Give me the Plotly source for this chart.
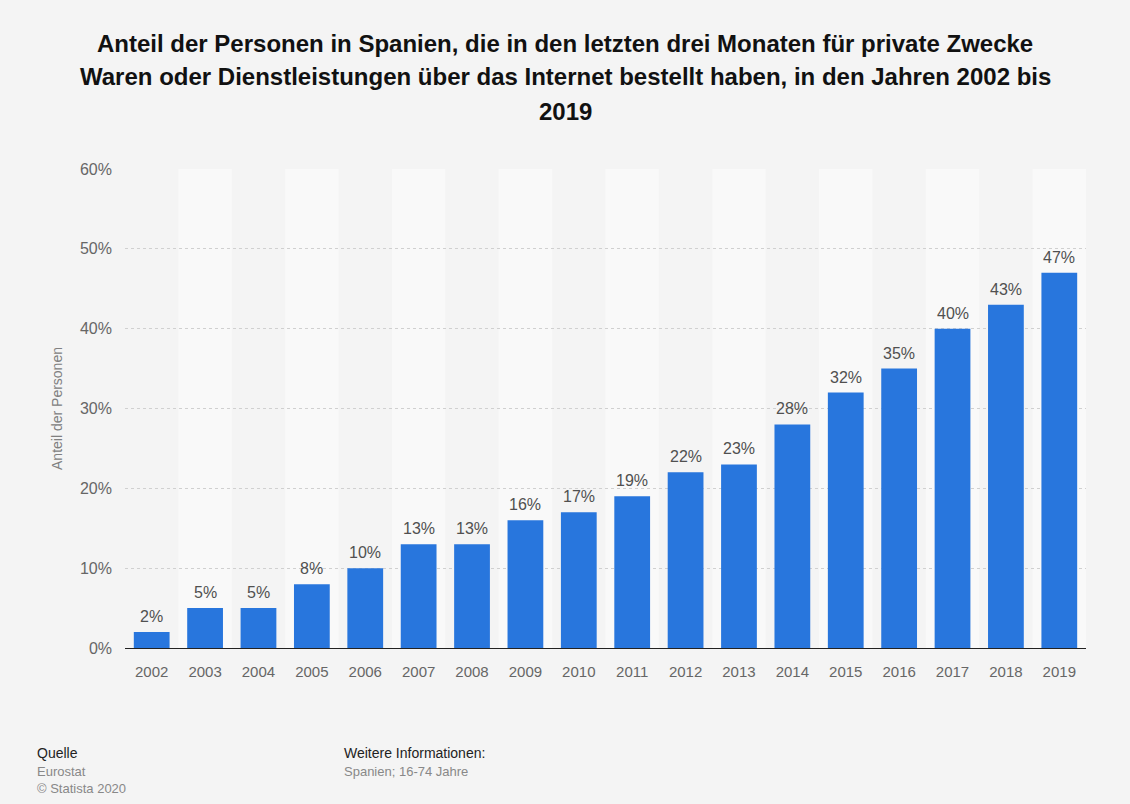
import plotly.graph_objects as go

# Werte
jahre = [str(j) for j in range(2002, 2020)]
anteil = [2, 5, 5, 8, 10, 13, 13, 16, 17, 19, 22, 23, 28, 32, 35, 40, 43, 47]
y_ticks = [0, 10, 20, 30, 40, 50, 60]
y_labels = ['0%', '10%', '20%', '30%', '40%', '50%', '60%']

title_lines = [
    'Anteil der Personen in Spanien, die in den letzten drei Monaten für private Zwecke',
    'Waren oder Dienstleistungen über das Internet bestellt haben, in den Jahren 2002 bis',
    '2019',
]

footer = [
    ('Quelle', 35, 753, '#222222', 14),
    ('Eurostat', 35, 771, '#888888', 13),
    ('© Statista 2020', 35, 788, '#888888', 13),
    ('Weitere Informationen:', 342, 753, '#222222', 14),
    ('Spanien; 16-74 Jahre', 342, 771, '#888888', 13),
]

FONT = 'Liberation Sans, Arial, sans-serif'
BG = '#f4f4f4'
BAND = '#f9f9f9'
BLUE = '#2876dd'

W, H = 1130, 804
ML, MR, MT, MB = 125, 44, 169, 156
plot_w = W - ML - MR
plot_h = H - MT - MB


def px_x(px):
    return (px - ML) / plot_w


def px_y(py):
    return (H - MB - py) / plot_h


fig = go.Figure(go.Bar(
    x=jahre,
    y=anteil,
    marker=dict(color=BLUE, line=dict(width=0)),
    width=0.67,
    hoverinfo='x+y',
))

# abwechselnde Hintergrundstreifen
for i in range(len(jahre)):
    if i % 2 == 1:
        fig.add_shape(type='rect', xref='x', yref='y',
                      x0=i - 0.5, x1=i + 0.5, y0=0, y1=60,
                      fillcolor=BAND, line=dict(width=0), layer='below')

# Werte über den Balken (Kategorieachse -> Index)
for i, v in enumerate(anteil):
    fig.add_annotation(x=i, y=v, xref='x', yref='y', text=f'{v}%',
                       showarrow=False, yanchor='bottom', yshift=5,
                       font=dict(family=FONT, size=16, color='#505050'))

# Titel, zeilenweise
for k, line in enumerate(title_lines):
    fig.add_annotation(x=(W / 2 - ML) / plot_w, xref='paper', xanchor='center',
                       y=px_y(43 + 34 * k), yref='paper', yanchor='middle',
                       text=f'<b>{line}</b>', showarrow=False,
                       font=dict(family=FONT, size=24, color='#111111'))

# Fußzeile
for txt, px, py, col, size in footer:
    fig.add_annotation(x=px_x(px), xref='paper', xanchor='left',
                       y=px_y(py), yref='paper', yanchor='middle',
                       text=txt, showarrow=False,
                       font=dict(family=FONT, size=size, color=col))

fig.update_layout(
    width=W,
    height=H,
    margin=dict(l=ML, r=MR, t=MT, b=MB),
    paper_bgcolor=BG,
    plot_bgcolor=BG,
    showlegend=False,
    font=dict(family=FONT, color='#666666'),
)

fig.update_xaxes(
    type='category',
    showgrid=False,
    showline=True,
    linecolor='#222222',
    linewidth=1.2,
    ticks='',
    ticklabelstandoff=10,
    tickfont=dict(family=FONT, size=15, color='#666666'),
    range=[-0.5, len(jahre) - 0.5],
)
fig.update_yaxes(
    range=[0, 60],
    tickvals=y_ticks,
    ticktext=y_labels,
    showgrid=True,
    gridcolor='#d0d0d0',
    griddash='dot',
    gridwidth=1,
    zeroline=False,
    ticks='',
    ticklabelstandoff=12,
    tickfont=dict(family=FONT, size=16, color='#666666'),
    title=dict(text='Anteil der Personen', standoff=14,
               font=dict(family=FONT, size=14, color='#808080')),
)

fig.write_html('out.html', config={'displayModeBar': False},
               post_script="document.body.style.margin='0px';")
